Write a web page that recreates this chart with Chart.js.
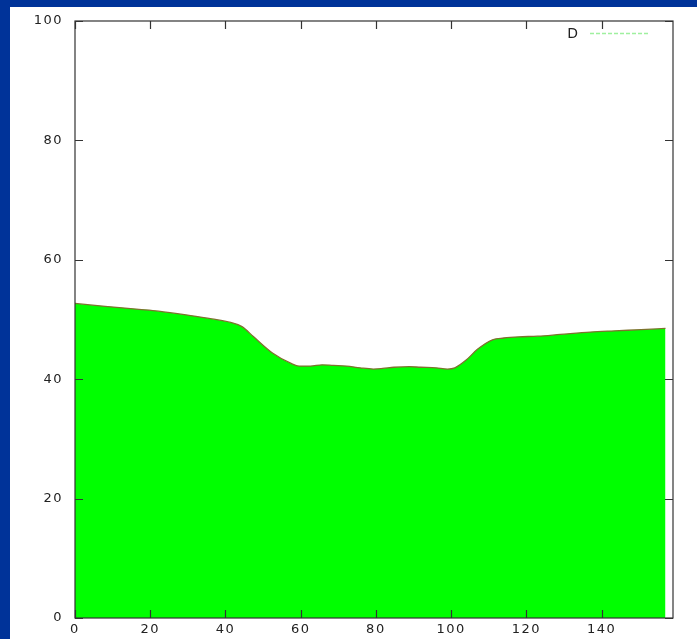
<!DOCTYPE html>
<html>
<head>
<meta charset="utf-8">
<script src="https://cdn.jsdelivr.net/npm/chart.js@4.4.1/dist/chart.umd.min.js"></script>
<style>
html,body{margin:0;padding:0;background:#003399;}
#wrap{width:697px;height:639px;position:relative;}
</style>
</head>
<body>
<div id="wrap"><canvas id="c" width="697" height="639"></canvas></div>
<script>
// ---- data ----
const xValues = [0, 8, 17, 22.2, 30.3, 36.4, 41.4, 44.4, 47.5, 52.5, 57.6, 59.6, 62.6, 65.7, 68.7, 72.2, 75.8, 79.3, 81.8, 84.8, 88.9, 91.9, 96, 99, 101, 104, 107, 111, 114, 118, 123, 129, 137, 143.5, 150.5, 157];
const dValues = [52.7, 52.2, 51.7, 51.4, 50.7, 50.1, 49.5, 48.8, 47.1, 44.4, 42.6, 42.2, 42.2, 42.4, 42.3, 42.2, 41.9, 41.7, 41.8, 42.0, 42.1, 42.0, 41.9, 41.7, 41.9, 43.2, 45.0, 46.6, 46.9, 47.1, 47.2, 47.5, 47.9, 48.1, 48.3, 48.5];
const xTicks = [0, 20, 40, 60, 80, 100, 120, 140];
const yTicks = [0, 20, 40, 60, 80, 100];
const seriesName = 'D';

const points = xValues.map((x, i) => ({x: x, y: dValues[i]}));

const bgPlugin = {
  id: 'bg',
  beforeDraw(chart) {
    const ctx = chart.ctx;
    ctx.save();
    ctx.fillStyle = '#003399';
    ctx.fillRect(0, 0, chart.width, chart.height);
    ctx.fillStyle = '#ffffff';
    ctx.fillRect(10, 7, chart.width - 10, chart.height - 7);
    ctx.restore();
    ctx.letterSpacing = '1.5px';
  },
  afterDraw(chart) {
    const ctx = chart.ctx;
    ctx.letterSpacing = '0px';
    const a = chart.chartArea;
    const xs = chart.scales.x, ys = chart.scales.y;
    ctx.save();
    ctx.strokeStyle = '#333333';
    ctx.lineWidth = 1.2;
    ctx.strokeRect(a.left, a.top, a.right - a.left, a.bottom - a.top);
    ctx.beginPath();
    const tl = 8;
    xTicks.forEach(v => {
      const px = Math.round(xs.getPixelForValue(v)) + 0.5;
      ctx.moveTo(px, a.bottom); ctx.lineTo(px, a.bottom - tl);
      ctx.moveTo(px, a.top); ctx.lineTo(px, a.top + tl);
    });
    yTicks.forEach(v => {
      const py = Math.round(ys.getPixelForValue(v)) + 0.5;
      ctx.moveTo(a.left, py); ctx.lineTo(a.left + tl, py);
      ctx.moveTo(a.right, py); ctx.lineTo(a.right - tl, py);
    });
    ctx.stroke();
    // legend
    ctx.font = '14px "DejaVu Sans"';
    ctx.fillStyle = '#222222';
    ctx.textAlign = 'right';
    ctx.textBaseline = 'middle';
    ctx.fillText(seriesName, 578, 34);
    ctx.strokeStyle = '#9ff09f';
    ctx.lineWidth = 1.5;
    ctx.setLineDash([4, 2]);
    ctx.beginPath();
    ctx.moveTo(590, 33.5); ctx.lineTo(650, 33.5);
    ctx.stroke();
    ctx.restore();
  }
};

new Chart(document.getElementById('c'), {
  type: 'line',
  data: {
    datasets: [{
      label: seriesName,
      data: points,
      borderColor: 'rgb(125,115,45)',
      borderWidth: 1.3,
      backgroundColor: '#00ff00',
      fill: 'origin',
      pointRadius: 0,
      tension: 0.35,
      cubicInterpolationMode: 'monotone'
    }]
  },
  options: {
    responsive: false,
    animation: false,
    events: [],
    layout: {padding: {left: 0, top: 21, right: 24, bottom: 0}},
    plugins: {legend: {display: false}, tooltip: {enabled: false}},
    scales: {
      x: {
        type: 'linear', min: 0, max: 159,
        afterBuildTicks: s => { s.ticks = xTicks.map(v => ({value: v})); },
        afterFit: s => { s.height = 21; },
        grid: {display: false, drawTicks: false},
        border: {display: false},
        ticks: {color: '#222222', padding: 4, maxRotation: 0, autoSkip: false,
                font: {family: '"DejaVu Sans"', size: 13}}
      },
      y: {
        type: 'linear', min: 0, max: 100,
        afterBuildTicks: s => { s.ticks = yTicks.map(v => ({value: v})); },
        afterFit: s => { s.width = 75; },
        grid: {display: false, drawTicks: false},
        border: {display: false},
        ticks: {color: '#222222', padding: 12, autoSkip: false,
                font: {family: '"DejaVu Sans"', size: 13}}
      }
    }
  },
  plugins: [bgPlugin]
});
</script>
</body>
</html>
